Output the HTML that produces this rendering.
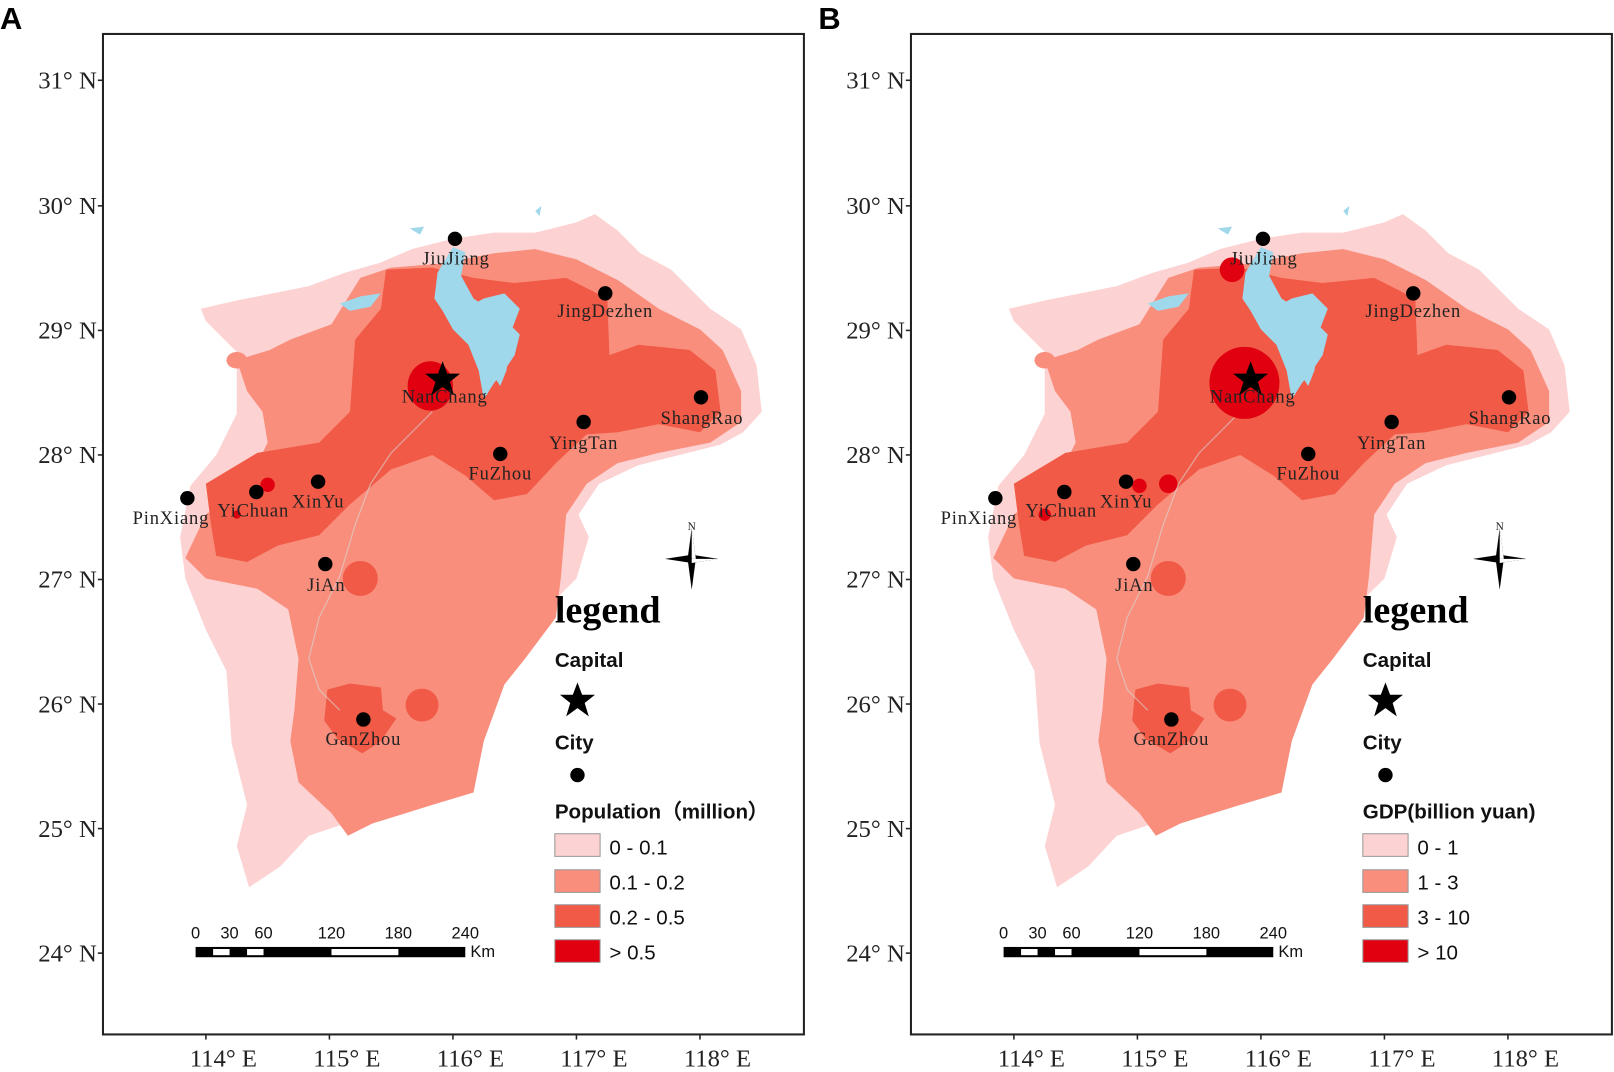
<!DOCTYPE html>
<html><head><meta charset="utf-8"><style>html,body{margin:0;padding:0;background:#fff}svg{display:block}</style></head>
<body>
<svg width="1614" height="1072" viewBox="0 0 1568 1041.5" xmlns="http://www.w3.org/2000/svg">
<defs>
<g id="mapbase">
<path fill="#fcd2d2" d="M195,300 L230,292 L300,278 L335,265 L370,255 L400,242 L440,232 L480,226 L520,226 L560,216 L578,208 L600,224 L622,246 L652,262 L690,300 L720,320 L735,355 L740,400 L722,420 L700,432 L660,442 L620,452 L582,470 L562,500 L572,522 L560,562 L540,582 L502,592 L482,604 L470,642 L444,690 L452,730 L442,770 L402,782 L362,800 L330,802 L300,812 L272,842 L242,862 L230,822 L240,782 L225,722 L220,652 L200,612 L180,562 L175,522 L185,472 L210,442 L230,402 L230,342 L200,312 Z"/>
<path fill="#f98e7c" d="M230,350 L262,340 L282,330 L322,315 L350,270 L380,260 L430,256 L480,246 L520,242 L560,252 L600,272 L640,300 L680,320 L702,340 L720,380 L720,410 L690,430 L640,440 L600,450 L570,470 L550,500 L545,560 L540,600 L510,640 L490,665 L470,720 L460,770 L420,782 L362,800 L338,812 L322,790 L290,760 L282,720 L286,690 L290,640 L280,592 L250,572 L200,562 L180,542 L200,500 L240,470 L260,430 L255,400 L240,380 Z"/>
<path fill="#f05a46" d="M200,470 L250,440 L310,430 L340,400 L345,330 L370,300 L375,262 L420,260 L460,270 L500,275 L550,270 L590,290 L592,345 L620,335 L670,340 L695,360 L700,400 L680,420 L640,412 L600,420 L570,422 L540,450 L512,480 L480,486 L452,462 L420,442 L380,456 L340,490 L310,520 L270,530 L240,546 L210,540 L205,510 Z"/>
<circle cx="350" cy="562" r="17" fill="#f05a46"/>
<circle cx="410" cy="685" r="16" fill="#f05a46"/>
<path fill="#f05a46" d="M318,670 L340,664 L370,668 L372,690 L385,698 L370,720 L352,732 L328,718 L315,700 Z"/>
<ellipse cx="230" cy="350" rx="10" ry="8" fill="#f98e7c"/>
<path fill="#9fd8ea" d="M425,265 L440,240 L452,245 L448,268 L460,290 L475,300 L490,310 L505,325 L500,345 L490,360 L480,372 L470,388 L465,360 L455,335 L440,320 L430,302 L422,290 Z"/>
<path fill="#9fd8ea" d="M452,300 L470,290 L490,285 L505,300 L498,318 L485,330 L468,318 Z M485,345 L495,338 L492,360 L486,375 L480,366 Z"/>
<path fill="#9fd8ea" d="M330,295 L350,288 L370,285 L360,298 L340,302 Z"/>
<path fill="#9fd8ea" d="M398,222 L412,220 L408,228 Z M520,205 L526,200 L524,210 Z"/>
<path fill="none" stroke="#d8d8d8" stroke-width="1.2" opacity="0.6" d="M420,400 L400,420 L380,440 L360,470 L345,510 L330,560 L310,600 L300,640 L310,670 L330,690"/>
</g>
<g id="frame">
<rect x="100" y="33" width="681" height="972" fill="none" stroke="#222" stroke-width="2"/>
<g stroke="#222" stroke-width="1.5">
<line x1="95" y1="78" x2="100" y2="78"/><line x1="95" y1="200" x2="100" y2="200"/><line x1="95" y1="321" x2="100" y2="321"/><line x1="95" y1="442" x2="100" y2="442"/><line x1="95" y1="563" x2="100" y2="563"/><line x1="95" y1="684" x2="100" y2="684"/><line x1="95" y1="805" x2="100" y2="805"/><line x1="95" y1="926" x2="100" y2="926"/>
<line x1="200" y1="1005" x2="200" y2="1010"/><line x1="320" y1="1005" x2="320" y2="1010"/><line x1="440" y1="1005" x2="440" y2="1010"/><line x1="560" y1="1005" x2="560" y2="1010"/><line x1="680" y1="1005" x2="680" y2="1010"/>
</g>
<g>
<rect x="190" y="920" width="262" height="10" fill="#000"/>
<rect x="207" y="922" width="16" height="6" fill="#fff"/>
<rect x="240" y="922" width="16" height="6" fill="#fff"/>
<rect x="322" y="922" width="65" height="6" fill="#fff"/>
</g>
<g transform="translate(672,543)">
<polygon points="0,-30 4,0 0,30 -4,0" fill="#000"/>
<polygon points="-26,0 0,-4 26,0 0,4" fill="#000"/>
<polygon points="0,-30 4,0 0,0" fill="#fff"/>
<polygon points="26,0 0,4 0,0" fill="#fff"/>
</g>
<g fill="#000">
<circle cx="442" cy="232" r="7"/><circle cx="588" cy="285" r="7"/><circle cx="681" cy="386" r="7"/><circle cx="567" cy="410" r="7"/><circle cx="486" cy="441" r="7"/><circle cx="309" cy="468" r="7"/><circle cx="249" cy="478" r="7"/><circle cx="182" cy="484" r="7"/><circle cx="316" cy="548" r="7"/><circle cx="353" cy="699" r="7"/><circle cx="561" cy="753" r="7"/>
</g>
<polygon fill="#000" points="430,351 434.5,363 447,363 437,371 441,384 430,376 419,384 423,371 413,363 425.5,363"/>
<polygon fill="#000" points="561,663 565.5,675 578,675 568,683 572,696 561,688 550,696 554,683 544,675 556.5,675"/>
<rect x="539" y="810" width="44" height="22" fill="#fcd2d2" stroke="#999"/>
<rect x="539" y="845" width="44" height="22" fill="#f98e7c" stroke="#999"/>
<rect x="539" y="879" width="44" height="22" fill="#f05a46" stroke="#999"/>
<rect x="539" y="913" width="44" height="22" fill="#e00010" stroke="#999"/>
</g>
</defs>

<use href="#mapbase"/>
<ellipse cx="418" cy="375" rx="22" ry="24" fill="#e00010"/>
<circle cx="260" cy="471" r="7" fill="#e00010"/>
<circle cx="230" cy="500" r="4" fill="#e00010"/>
<use href="#frame"/>

<g transform="translate(785,0)">
<use href="#mapbase"/>
<ellipse cx="424" cy="372" rx="34" ry="35" fill="#e00010"/>
<circle cx="412" cy="262" r="12" fill="#e00010"/>
<circle cx="350" cy="470" r="9" fill="#e00010"/>
<circle cx="322" cy="472" r="7" fill="#e00010"/>
<circle cx="230" cy="500" r="6" fill="#e00010"/>
<use href="#frame"/>
</g>

<g font-family="Liberation Sans, Arial, sans-serif" font-weight="bold" font-size="30" fill="#000">
<text x="0" y="28">A</text><text x="795" y="28">B</text>
</g>

<g font-family="Liberation Serif, serif" font-size="24" fill="#222" text-anchor="end" xml:space="preserve">
<text x="94" y="86">31°  N</text><text x="94" y="208">30°  N</text><text x="94" y="329">29°  N</text><text x="94" y="450">28°  N</text><text x="94" y="571">27°  N</text><text x="94" y="692">26°  N</text><text x="94" y="813">25°  N</text><text x="94" y="934">24°  N</text>
<text x="879" y="86">31°  N</text><text x="879" y="208">30°  N</text><text x="879" y="329">29°  N</text><text x="879" y="450">28°  N</text><text x="879" y="571">27°  N</text><text x="879" y="692">26°  N</text><text x="879" y="813">25°  N</text><text x="879" y="934">24°  N</text>
</g>
<g font-family="Liberation Serif, serif" font-size="24" fill="#222" text-anchor="middle" xml:space="preserve">
<text x="217" y="1036">114°  E</text><text x="337" y="1036">115°  E</text><text x="457" y="1036">116°  E</text><text x="577" y="1036">117°  E</text><text x="697" y="1036">118°  E</text>
<text x="1002" y="1036">114°  E</text><text x="1122" y="1036">115°  E</text><text x="1242" y="1036">116°  E</text><text x="1362" y="1036">117°  E</text><text x="1482" y="1036">118°  E</text>
</g>

<g font-family="Liberation Serif, serif" font-size="18" fill="#222" text-anchor="middle" letter-spacing="0.8">
<text x="443" y="257">JiuJiang</text><text x="588" y="308">JingDezhen</text><text x="432" y="391">NanChang</text><text x="682" y="412">ShangRao</text><text x="567" y="436">YingTan</text><text x="486" y="466">FuZhou</text><text x="309" y="493">XinYu</text><text x="246" y="502">YiChuan</text><text x="166" y="509">PinXiang</text><text x="317" y="574">JiAn</text><text x="353" y="724">GanZhou</text>
<text x="1228" y="257">JiuJiang</text><text x="1373" y="308">JingDezhen</text><text x="1217" y="391">NanChang</text><text x="1467" y="412">ShangRao</text><text x="1352" y="436">YingTan</text><text x="1271" y="466">FuZhou</text><text x="1094" y="493">XinYu</text><text x="1031" y="502">YiChuan</text><text x="951" y="509">PinXiang</text><text x="1102" y="574">JiAn</text><text x="1138" y="724">GanZhou</text>
</g>
<g font-family="Liberation Serif, serif" font-size="11" fill="#222" text-anchor="middle">
<text x="672" y="515">N</text><text x="1457" y="515">N</text>
</g>

<g font-family="Liberation Serif, serif" font-weight="bold" font-size="37" fill="#000">
<text x="539" y="605">legend</text><text x="1324" y="605">legend</text>
</g>
<g font-family="Liberation Sans, Arial, sans-serif" font-weight="bold" font-size="20" fill="#111">
<text x="539" y="648">Capital</text><text x="539" y="728">City</text><text x="539" y="795">Population（million）</text>
<text x="1324" y="648">Capital</text><text x="1324" y="728">City</text><text x="1324" y="795">GDP(billion yuan)</text>
</g>
<g font-family="Liberation Sans, Arial, sans-serif" font-size="20" fill="#111">
<text x="592" y="830">0 - 0.1</text><text x="592" y="864">0.1 - 0.2</text><text x="592" y="898">0.2 - 0.5</text><text x="592" y="932">&gt; 0.5</text>
<text x="1377" y="830">0 - 1</text><text x="1377" y="864">1 - 3</text><text x="1377" y="898">3 - 10</text><text x="1377" y="932">&gt; 10</text>
</g>
<g font-family="Liberation Sans, Arial, sans-serif" font-size="16" fill="#111" text-anchor="middle">
<text x="190" y="912">0</text><text x="223" y="912">30</text><text x="256" y="912">60</text><text x="322" y="912">120</text><text x="387" y="912">180</text><text x="452" y="912">240</text>
<text x="975" y="912">0</text><text x="1008" y="912">30</text><text x="1041" y="912">60</text><text x="1107" y="912">120</text><text x="1172" y="912">180</text><text x="1237" y="912">240</text>
</g>
<g font-family="Liberation Sans, Arial, sans-serif" font-size="16" fill="#111">
<text x="457" y="930">Km</text><text x="1242" y="930">Km</text>
</g>
</svg>
</body></html>
